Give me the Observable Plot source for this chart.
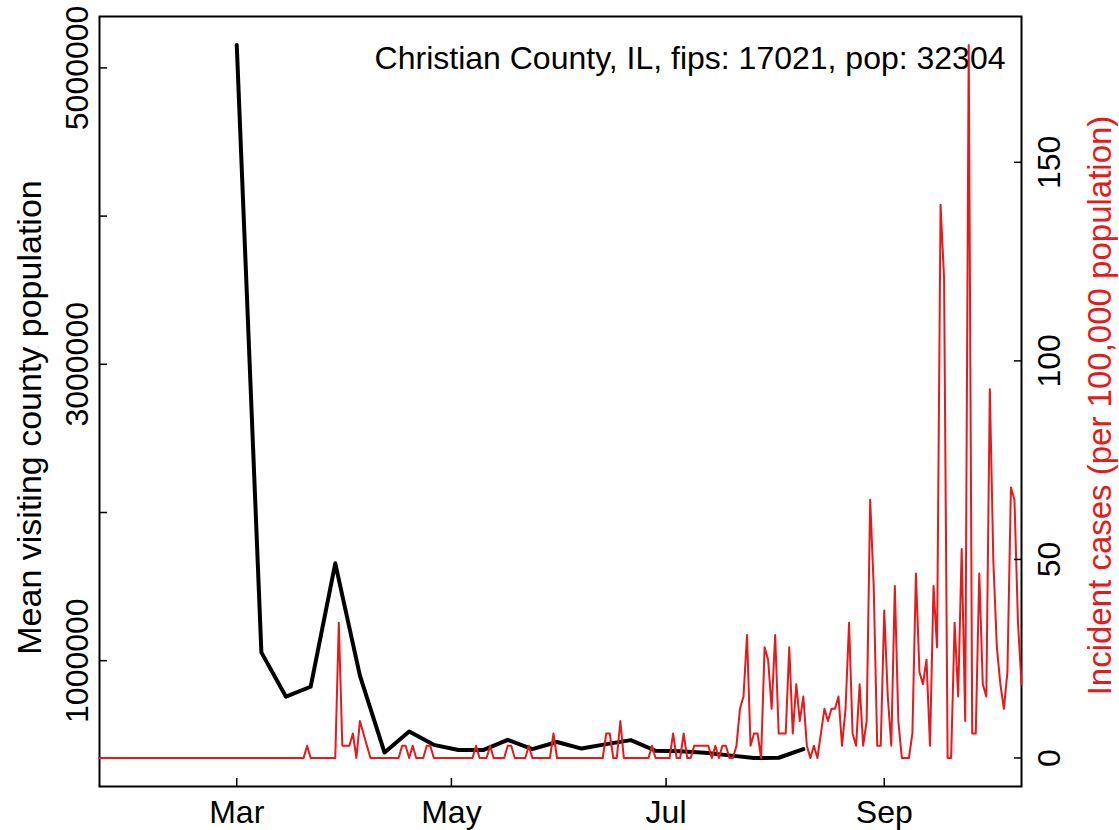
<!DOCTYPE html>
<html>
<head>
<meta charset="utf-8">
<script src="https://cdn.jsdelivr.net/npm/d3@7"></script>
<script src="https://cdn.jsdelivr.net/npm/@observablehq/plot@0.6"></script>
<style>
  body { margin: 0; background: #ffffff; }
  #wrap { position: relative; width: 1119px; height: 830px; }
  #wrap svg { position: absolute; left: 0; top: 0; }
</style>
</head>
<body>
<div id="wrap"></div>
<script>
// ---- data ----
const titleText = "Christian County, IL, fips: 17021, pop: 32304";
const leftTitle = "Mean visiting county population";
const rightTitle = "Incident cases (per 100,000 population)";

// weekly mean visiting county population (black)
const blackDates = ["2020-03-01","2020-03-08","2020-03-15","2020-03-22","2020-03-29","2020-04-05",
  "2020-04-12","2020-04-19","2020-04-26","2020-05-03","2020-05-10","2020-05-17","2020-05-24",
  "2020-05-31","2020-06-07","2020-06-14","2020-06-21","2020-06-28","2020-07-05","2020-07-12",
  "2020-07-19","2020-07-26","2020-08-02","2020-08-09"];
const blackValues = [5155000,1056000,757000,824000,1657000,899000,
  380000,522000,432000,397000,397000,466000,403000,
  451000,407000,437000,464000,392000,389000,378000,
  361000,343000,345000,403000];

// daily incident cases per 100,000 (red), from 2020-01-22 to 2020-10-10
const redStart = "2020-01-22";
const redValues = [
  // Jan 22 - Feb 29
  0,0,0,0,0,0,0,0,0,0, 0,0,0,0,0,0,0,0,0,0, 0,0,0,0,0,0,0,0,0,0, 0,0,0,0,0,0,0,0,0,
  // Mar
  0,0,0,0,0,0,0,0,0,0, 0,0,0,0,0,0,0,0,0,0, 3.1,0,0,0,0,0,0,0,0,34.05,3.1,
  // Apr
  3.1,3.1,6.19,0,9.29,6.19,3.1,0,0,0, 0,0,0,0,0,0,3.1,3.1,0,3.1, 0,0,0,3.1,3.1,0,0,0,0,0,
  // May
  0,0,0,0,0,0,0,3.1,0,0, 0,3.1,0,0,0,0,3.1,3.1,0,0, 0,0,3.1,0,0,0,0,0,0,6.19,0,
  // Jun
  0,0,0,0,0,0,0,0,0,0, 0,0,0,6.19,6.19,0,0,9.29,0,0, 0,0,0,0,0,0,3.1,0,0,0,
  // Jul
  0,0,6.19,0,0,6.19,0,0,3.1,3.1, 3.1,3.1,3.1,0,3.1,0,3.1,3.1,0,0,
  3.1,12.38,15.48,30.96,3.1,6.19,6.19,0,27.86,24.76,12.38,
  // Aug
  30.96,6.19,6.19,6.19,27.86,6.19,18.57,9.29,15.48,3.1,
  0,3.1,0,6.19,12.38,9.29,12.38,12.38,15.48,3.1,
  12.38,34.05,6.19,3.1,18.57,3.1,9.29,65.01,43.34,3.1,3.1,
  // Sep
  37.15,15.48,3.1,43.34,9.29,0,0,0,6.19,46.43,
  21.67,18.57,24.76,3.1,43.34,27.86,139.3,120.73,0,0,
  34.05,15.48,52.63,9.29,179.54,6.19,6.19,46.43,18.57,15.48,
  // Oct 1 - 10
  92.87,49.53,27.86,18.57,12.38,21.67,68.1,65.01,34.05,18.57
];

const xTickDates = ["2020-03-01","2020-05-01","2020-07-01","2020-09-01"];
const xTickLabels = ["Mar","May","Jul","Sep"];
const leftTicks = [1000000,2000000,3000000,4000000,5000000];
const leftTickLabels = ["1000000","","3000000","","5000000"];
const rightTicks = [0,50,100,150];
const rightTickLabels = ["0","50","100","150"];

// ---- build tables ----
const black = blackDates.map((d, i) => ({date: new Date(d), value: blackValues[i]}));
const red = redValues.map((v, i) => ({date: d3.utcDay.offset(new Date(redStart), i), value: v}));
const xTicks = xTickDates.map(d => new Date(d));
const xLabelMap = new Map(xTicks.map((d, i) => [d.getTime(), xTickLabels[i]]));
const leftLabelMap = new Map(leftTicks.map((d, i) => [d, leftTickLabels[i]]));
const rightLabelMap = new Map(rightTicks.map((d, i) => [d, rightTickLabels[i]]));

const RED = "#e41a1c";
const FONT = "'Liberation Sans', Arial, Helvetica, sans-serif";
const common = {
  width: 1119, height: 830,
  marginTop: 16, marginBottom: 44, marginLeft: 99, marginRight: 98,
  style: {fontFamily: FONT, fontSize: "32px", background: "transparent", color: "black"}
};
const xDomain = [new Date("2020-01-22"), new Date("2020-10-10")];

const p1 = Plot.plot({
  ...common,
  x: {type: "utc", domain: xDomain, label: null},
  y: {domain: [151000, 5347000], label: null},
  marks: [
    Plot.axisX(xTicks, {tickSize: -8, tickFormat: () => "", strokeWidth: 1.5, label: null}),
    Plot.axisX(xTicks, {tickSize: 0, tickPadding: 14, tickFormat: d => xLabelMap.get(d.getTime()), fontSize: 32, label: null}),
    Plot.axisY(leftTicks, {tickSize: -8, tickFormat: () => "", strokeWidth: 1.5, label: null}),
    Plot.axisY(leftTicks, {tickSize: 0, tickPadding: 12, tickRotate: -90, textAnchor: "middle", lineAnchor: "bottom",
      tickFormat: d => leftLabelMap.get(d), fontSize: 32, label: null}),
    Plot.line(black, {x: "date", y: "value", stroke: "black", strokeWidth: 4, strokeLinejoin: "round"}),
    Plot.text([titleText], {frameAnchor: "top-right", dx: -16, dy: 42, text: d => d, textAnchor: "end",
      lineAnchor: "middle", fontSize: 32, fill: "black"}),
    Plot.text([leftTitle], {frameAnchor: "left", dx: -69, dy: 16, rotate: -90, text: d => d, textAnchor: "middle",
      lineAnchor: "middle", fontSize: 34, fill: "black"}),
    Plot.frame({stroke: "black", strokeWidth: 2})
  ]
});

const p2 = Plot.plot({
  ...common,
  x: {type: "utc", domain: xDomain, label: null, axis: null},
  y: {domain: [-7.18, 186.72], label: null},
  marks: [
    Plot.line(red, {x: "date", y: "value", stroke: RED, strokeWidth: 2, strokeLinejoin: "round"}),
    Plot.axisY(rightTicks, {anchor: "right", tickSize: -8, tickFormat: () => "", strokeWidth: 1.5, label: null}),
    Plot.axisY(rightTicks, {anchor: "right", tickSize: 0, tickPadding: 16, tickRotate: -90, textAnchor: "middle",
      lineAnchor: "top", tickFormat: d => rightLabelMap.get(d), fontSize: 32, label: null}),
    Plot.text([rightTitle], {frameAnchor: "right", dx: 79, dy: 4, rotate: -90, text: d => d, textAnchor: "middle",
      lineAnchor: "middle", fontSize: 33, fill: RED})
  ]
});

const wrap = document.getElementById("wrap");
wrap.appendChild(p1);
wrap.appendChild(p2);
</script>
</body>
</html>
